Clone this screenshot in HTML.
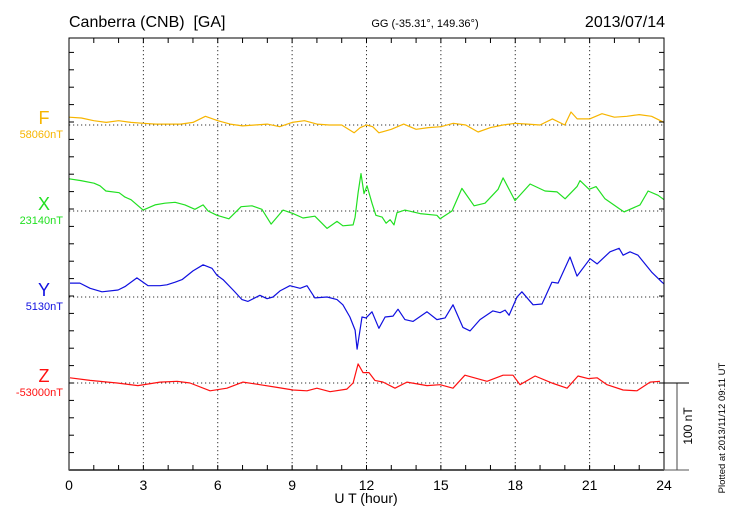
<!DOCTYPE html>
<html><head><meta charset="utf-8"><style>
body{margin:0;background:#fff;}
svg{display:block;font-family:"Liberation Sans",sans-serif;}
</style></head><body>
<svg id="chart" width="730" height="520" viewBox="0 0 730 520" xmlns="http://www.w3.org/2000/svg">
<text x="69" y="27" font-size="16">Canberra (CNB)&#160; [GA]</text>
<text x="425" y="27" font-size="11" text-anchor="middle">GG (-35.31°, 149.36°)</text>
<text x="665" y="27" font-size="16" text-anchor="end">2013/07/14</text>
<text x="366" y="503" font-size="14" text-anchor="middle">U T (hour)</text>
<text transform="translate(725,428) rotate(-90)" font-size="9.5" text-anchor="middle">Plotted at 2013/11/12 09:11 UT</text>
<text transform="translate(692,426) rotate(-90)" font-size="12" text-anchor="middle">100 nT</text>
<g id="grid"></g>
<g id="series"></g>
<g id="frame"></g>
</svg>
<script>
const tickHours = [0,3,6,9,12,15,18,21,24];
const tickLabels = ["0","3","6","9","12","15","18","21","24"];
const compNames = ["F","X","Y","Z"];
const compBaseLabels = ["58060nT","23140nT","5130nT","-53000nT"];
const compColors = ["#f7b500","#22e022","#1010e0","#ff1010"];

const fTimes = [0,0.5,1,1.5,2,2.5,3,3.5,4,4.5,5,5.5,6,6.5,7,7.5,8,8.5,9,9.5,10,10.5,11,11.5,11.75,12,12.25,12.5,13,13.5,14,14.5,15,15.5,16,16.5,17,17.5,18,18.5,19,19.5,20,20.25,20.5,20.75,21,21.5,22,22.5,23,23.5,24];
const fValues = [9,8,5,3,5,3,2,1,1,1,3,10,5,1,-1,0,1,-2,3,5,1,0,0,-9,-3,0,-2,-9,-5,1,-5,-3,-2,2,0,-8,-3,0,2,1,0,7,0,15,7,7,7,13,9,10,12,10,3];

const xTimes = [0,0.48,1.01,1.25,1.49,2.02,2.26,2.5,2.99,3.47,3.87,4.28,4.68,5.08,5.41,5.61,5.97,6.45,6.94,7.38,7.78,8.15,8.63,9.04,9.44,9.92,10.41,10.81,11.05,11.46,11.54,11.66,11.78,11.9,12.02,12.22,12.38,12.63,12.79,12.95,13.11,13.23,13.55,14.16,14.84,14.97,15.45,15.85,16.34,16.78,17.31,17.51,17.99,18.6,19.2,19.69,20.01,20.49,20.61,20.98,21.26,21.62,22.23,22.39,22.63,23.03,23.36,23.76,24];
const xValues = [37,35,32,29,23,21,16,13,1,7,9,10,7,2,7,0,-5,-9,5,6,2,-15,1,-3,-8,-6,-20,-12,-17,-16,-7,21,43,20,29,9,-5,-7,-14,-10,-16,-2,1,-3,-5,-9,0,26,6,9,25,38,12,31,23,22,14,28,35,25,28,14,2,-1,2,7,23,18,13];

const yTimes = [0.04,0.44,0.85,1.33,1.98,2.26,2.74,3.19,3.67,3.95,4.28,4.56,5.0,5.41,5.77,5.97,6.21,6.62,6.98,7.22,7.70,7.99,8.23,8.51,8.91,9.32,9.60,9.92,10.41,10.81,11.05,11.33,11.54,11.62,11.82,11.98,12.22,12.50,12.75,13.07,13.27,13.55,13.88,14.44,14.84,15.17,15.49,15.89,16.18,16.58,17.10,17.39,17.59,17.75,18.07,18.27,18.72,19.08,19.48,19.73,20.21,20.49,21.02,21.30,21.82,22.19,22.35,22.63,22.95,23.52,23.92,24];
const yValues = [16,16,10,6,8,12,22,13,13,14,17,20,30,37,33,25,20,8,-3,-5,2,-2,0,7,13,10,13,-1,0,-3,-9,-23,-38,-60,-23,-24,-17,-36,-23,-22,-14,-26,-28,-17,-26,-24,-9,-35,-39,-26,-16,-18,-15,-21,0,6,-9,-8,17,16,46,24,44,38,52,56,48,52,48,28,17,15];

const zTimes = [0.04,0.85,1.94,2.78,3.67,4.36,4.88,5.69,6.37,7.02,7.70,8.39,9.04,9.60,10.0,10.53,11.21,11.46,11.66,11.86,12.10,12.34,12.67,13.15,13.63,14.44,14.97,15.49,15.97,16.86,17.51,17.91,18.19,18.80,19.48,20.09,20.53,20.94,21.30,21.70,22.35,22.91,23.44,23.84];
const zValues = [6,3,0,-3,1,2,0,-9,-6,1,-2,-5,-8,-9,-6,-10,-7,0,22,12,12,3,1,-6,1,-3,-2,-6,9,2,9,9,-2,8,0,-6,8,5,6,-2,-8,-9,1,2];

const L=69,R=664,T=38,B=470;
const baselines=[125,211,297,383];
const pxPerNT=0.87;
const xs = h => L + (R-L)*h/24;
const ys = (v,i) => baselines[i] - v*pxPerNT;
const NS="http://www.w3.org/2000/svg";
function mk(tag,attrs,parent){const e=document.createElementNS(NS,tag);for(const k in attrs)e.setAttribute(k,attrs[k]);parent.appendChild(e);return e;}
const grid=document.getElementById('grid'),series=document.getElementById('series'),frame=document.getElementById('frame');

tickHours.forEach((h,i)=>{
  if(h>0&&h<24){const g=mk('line',{x1:xs(h),x2:xs(h),y1:T,y2:B,stroke:'#333','stroke-width':1,'stroke-dasharray':'1.2,2.8'},grid);
  
  }
  const t=mk('text',{x:xs(h),y:490,'font-size':14,'text-anchor':'middle'},frame);t.textContent=tickLabels[i];
  
  
});
baselines.forEach((b,i)=>{
  const g=mk('line',{x1:L,x2:R,y1:b,y2:b,stroke:'#333','stroke-width':1,'stroke-dasharray':'1.2,2.8'},grid);
  
  
  const n=mk('text',{x:44,y:b-1,'font-size':18,'text-anchor':'middle',fill:compColors[i]},frame);n.textContent=compNames[i];
  
  
  const v=mk('text',{x:63,y:b+13,'font-size':11,'text-anchor':'end',fill:compColors[i]},frame);v.textContent=compBaseLabels[i];
  
  
});
const allT=[fTimes,xTimes,yTimes,zTimes],allV=[fValues,xValues,yValues,zValues];
allT.forEach((tt,i)=>{
  const pts=tt.map((h,j)=>xs(h).toFixed(1)+','+ys(allV[i][j],i).toFixed(1)).join(' ');
  const p=mk('polyline',{points:pts,fill:'none',stroke:compColors[i],'stroke-width':1.2,'stroke-linejoin':'round'},series);
  
  
});
const fr=mk('rect',{x:L,y:T,width:R-L,height:B-T,fill:'none',stroke:'#000','stroke-width':1},frame);


mk('line',{x1:L,x2:R,y1:B,y2:B,stroke:'#555','stroke-width':2},frame);
for(let h=1;h<24;h++){
  mk('line',{x1:xs(h),x2:xs(h),y1:T,y2:T+5,stroke:'#000'},frame);
  mk('line',{x1:xs(h),x2:xs(h),y1:B,y2:B-5,stroke:'#000'},frame);
}
for(let k=1;k<25;k++){const y=B-k*17.4;if(y<=T+2)break;
  mk('line',{x1:L,x2:L+5,y1:y,y2:y,stroke:'#000'},frame);
  mk('line',{x1:R,x2:R-5,y1:y,y2:y,stroke:'#000'},frame);
}
const sb=mk('g',{},frame);


mk('line',{x1:677,x2:677,y1:383,y2:470,stroke:'#444'},sb);
mk('line',{x1:R,x2:689,y1:383,y2:383,stroke:'#000'},sb);
mk('line',{x1:R,x2:689,y1:470,y2:470,stroke:'#555'},sb);
</script>
</body></html>
